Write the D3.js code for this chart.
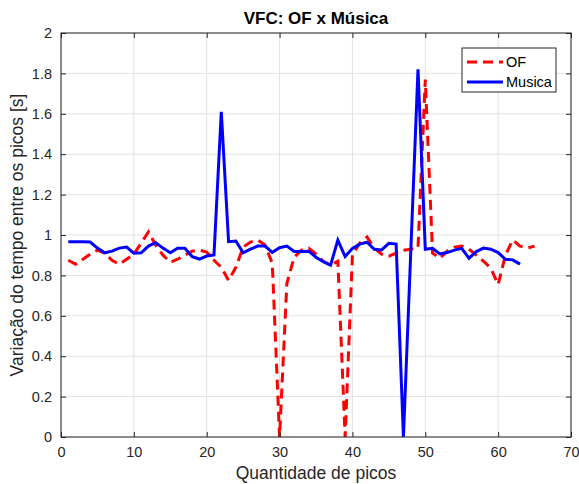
<!DOCTYPE html>
<html lang="en">
<head>
    <meta charset="UTF-8">
    <title>VFC: OF x Musica</title>
    <script src="https://cdn.jsdelivr.net/npm/d3@7"></script>
    <style>
        body { margin: 0; background: white; }
        svg { display: block; font-family: "Liberation Sans", Arial, sans-serif; }
    </style>
</head>
<body>
    <svg></svg>
    <script>
        // Data
        var ofValues = [0.875, 0.855, 0.88, 0.905, 0.925, 0.91, 0.875, 0.855, 0.88, 0.905,
            0.96, 1.015, 0.95, 0.9, 0.865, 0.88, 0.9, 0.92, 0.925, 0.915,
            0.875, 0.84, 0.775, 0.84, 0.94, 0.965, 0.975, 0.95, 0.86, 0.0,
            0.76, 0.89, 0.925, 0.935, 0.905, 0.87, 0.85, 0.87, 0.0, 0.9,
            0.96, 0.99, 0.935, 0.905, 0.895, 0.91, 0.925, 0.93, 0.935, 1.77,
            0.91, 0.885, 0.92, 0.94, 0.945, 0.93, 0.9, 0.87, 0.835, 0.755,
            0.9, 0.975, 0.945, 0.935, 0.945];
        var musicaValues = [0.967, 0.967, 0.967, 0.965, 0.935, 0.912, 0.92, 0.935, 0.94, 0.91,
            0.912, 0.945, 0.962, 0.935, 0.912, 0.934, 0.934, 0.893, 0.881, 0.896,
            0.901, 1.61, 0.967, 0.97, 0.912, 0.93, 0.945, 0.945, 0.914, 0.937,
            0.945, 0.918, 0.918, 0.92, 0.89, 0.868, 0.851, 0.975, 0.893, 0.934,
            0.955, 0.964, 0.929, 0.926, 0.959, 0.955, 0.0, 0.91, 1.82, 0.929,
            0.934, 0.906, 0.913, 0.925, 0.934, 0.885, 0.918, 0.935, 0.93, 0.913,
            0.88, 0.877, 0.856];
        var xTicks = [0, 10, 20, 30, 40, 50, 60, 70];
        var yTicks = [0, 0.2, 0.4, 0.6, 0.8, 1, 1.2, 1.4, 1.6, 1.8, 2];
        var seriesNames = ["OF", "Musica"];

        var width = 579, height = 484;
        var svg = d3.select("svg").attr("width", width).attr("height", height);

        var margin = {left: 61, right: 8, top: 33, bottom: 47};
        var x = d3.scaleLinear().domain([0, 70]).range([margin.left, width - margin.right]);
        var y = d3.scaleLinear().domain([0, 2]).range([height - margin.bottom, margin.top]);

        // grid
        var grid = svg.append("g");
        grid.selectAll("line.gx").data(xTicks).enter().append("line")
            .attr("x1", d => x(d)).attr("x2", d => x(d))
            .attr("y1", y(0)).attr("y2", y(2))
            .style("stroke", "#e3e3e3").style("stroke-width", 1);
        grid.selectAll("line.gy").data(yTicks).enter().append("line")
            .attr("y1", d => y(d)).attr("y2", d => y(d))
            .attr("x1", x(0)).attr("x2", x(70))
            .style("stroke", "#e3e3e3").style("stroke-width", 1);

        // lines
        var line = d3.line().x((d, i) => x(i + 1)).y(d => y(d));
        svg.append("path").datum(ofValues).attr("d", line)
            .style("fill", "none").style("stroke", "#ff0000").style("stroke-width", 3)
            .style("stroke-dasharray", "10,6");
        svg.append("path").datum(musicaValues).attr("d", line)
            .style("fill", "none").style("stroke", "#0000ff").style("stroke-width", 3);

        // axes, ticks inside on all four sides
        var axisColor = "#262626";
        function styleAxis(g) {
            g.select(".domain").remove();
            g.selectAll(".tick line").style("stroke", axisColor);
            g.selectAll(".tick text").style("fill", "#262626").style("font-size", "14.5px")
                .style("font-family", "Liberation Sans, Arial, sans-serif");
        }
        svg.append("g").attr("transform", `translate(0,${y(0)})`)
            .call(d3.axisBottom(x).tickValues(xTicks).tickSize(-5).tickPadding(10))
            .call(styleAxis);
        svg.append("g").attr("transform", `translate(${x(0)},0)`)
            .call(d3.axisLeft(y).tickValues(yTicks).tickSize(-5).tickPadding(9).tickFormat(d3.format("~g")))
            .call(styleAxis);
        svg.append("g").attr("transform", `translate(0,${y(2)})`)
            .call(d3.axisTop(x).tickValues(xTicks).tickSize(-5).tickFormat(""))
            .call(styleAxis);
        svg.append("g").attr("transform", `translate(${x(70)},0)`)
            .call(d3.axisRight(y).tickValues(yTicks).tickSize(-5).tickFormat(""))
            .call(styleAxis);
        svg.append("rect")
            .attr("x", x(0)).attr("y", y(2))
            .attr("width", x(70) - x(0)).attr("height", y(0) - y(2))
            .style("fill", "none").style("stroke", axisColor).style("stroke-width", 1);

        // title and labels
        svg.append("text").attr("x", (x(0) + x(70)) / 2).attr("y", 24)
            .attr("text-anchor", "middle").style("font-size", "17px").style("font-weight", "bold")
            .style("fill", "black").text("VFC: OF x Música");
        svg.append("text").attr("x", (x(0) + x(70)) / 2).attr("y", 479)
            .attr("text-anchor", "middle").style("font-size", "17.5px").style("fill", "#262626")
            .text("Quantidade de picos");
        svg.append("text")
            .attr("transform", `translate(23,${(y(0) + y(2)) / 2}) rotate(-90)`)
            .attr("text-anchor", "middle").style("font-size", "17.5px").style("fill", "#262626")
            .text("Variação do tempo entre os picos [s]");

        // legend
        var legend = svg.append("g").attr("transform", "translate(462,48)");
        legend.append("rect").attr("width", 94).attr("height", 44)
            .style("fill", "white").style("stroke", axisColor).style("stroke-width", 1);
        var legendStyles = [
            {color: "#ff0000", dash: "10,6"},
            {color: "#0000ff", dash: null}
        ];
        seriesNames.forEach(function(name, i) {
            var ly = 14 + i * 20;
            legend.append("line").attr("x1", 5).attr("x2", 41).attr("y1", ly).attr("y2", ly)
                .style("stroke", legendStyles[i].color).style("stroke-width", 3)
                .style("stroke-dasharray", legendStyles[i].dash);
            legend.append("text").attr("x", 44).attr("y", ly + 5)
                .style("font-size", "14.5px").style("fill", "black").text(name);
        });
    </script>
</body>
</html>
